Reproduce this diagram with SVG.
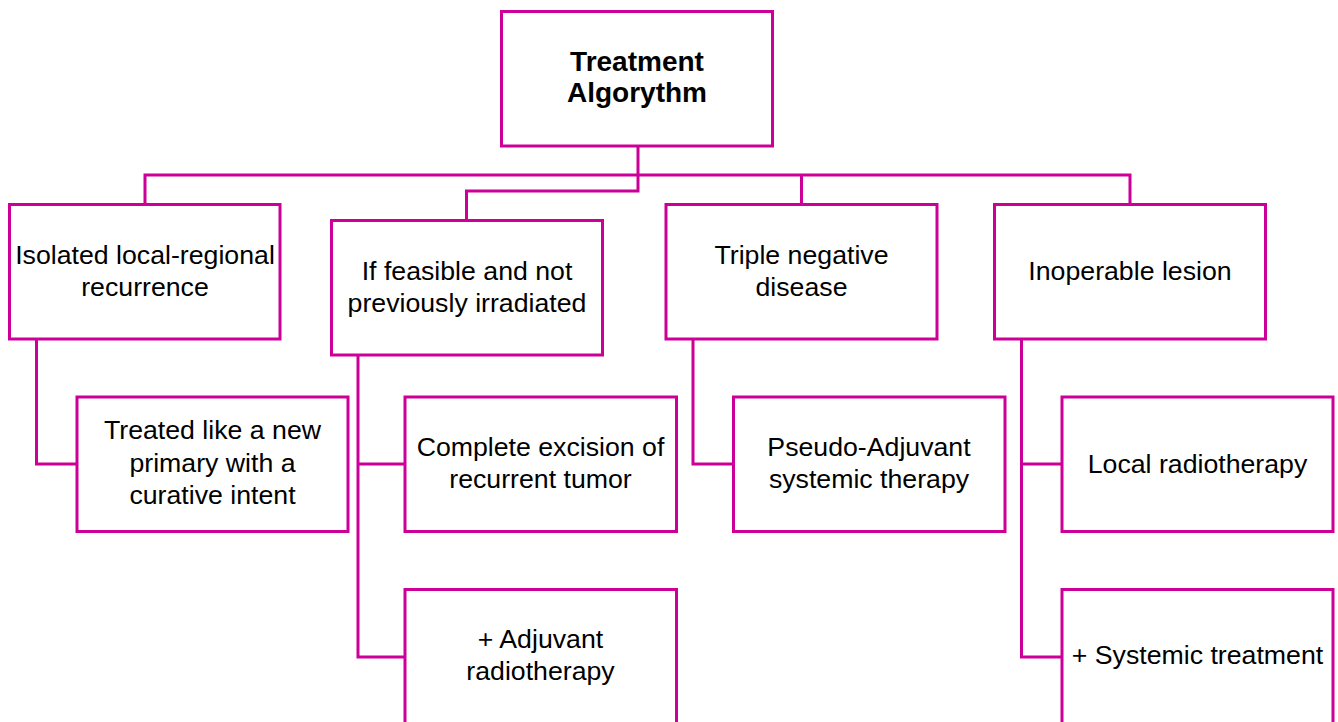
<svg xmlns="http://www.w3.org/2000/svg" width="1338" height="722" viewBox="0 0 1338 722">
  <style>
    .box { fill: #ffffff; stroke: #cc0099; stroke-width: 3; }
    .link { fill: none; stroke: #cc0099; stroke-width: 3; stroke-linejoin: miter; }
    .label { font-family: "Liberation Sans", Arial, sans-serif; font-size: 26.7px; fill: #000000; text-anchor: middle; }
    .title { font-family: "Liberation Sans", Arial, sans-serif; font-size: 28px; font-weight: bold; fill: #000000; text-anchor: middle; }
  </style>
  <rect width="1338" height="722" fill="#ffffff"/>

  <!-- connectors -->
  <g id="connectors">
    <path class="link" d="M638 146 V191 H466.5 V220"/>
    <path class="link" d="M145 204 V175 H1130 V204"/>
    <path class="link" d="M801.5 175 V204"/>
    <path class="link" d="M36.5 339 V464 H77"/>
    <path class="link" d="M358 355 V657 H405"/>
    <path class="link" d="M358 464 H405"/>
    <path class="link" d="M693 339 V464 H733.5"/>
    <path class="link" d="M1021.5 339 V657 H1062"/>
    <path class="link" d="M1021.5 464 H1062"/>
  </g>

  <!-- root -->
  <g id="root">
    <rect class="box" x="501.5" y="11.5" width="271" height="134.5"/>
    <text class="title" x="637" y="71">Treatment</text>
    <text class="title" x="637" y="102">Algorythm</text>
  </g>

  <!-- first level -->
  <g id="isolated">
    <rect class="box" x="9.5" y="204.5" width="270.5" height="134.5"/>
    <text class="label" x="145" y="264">Isolated local-regional</text>
    <text class="label" x="145" y="296">recurrence</text>
  </g>
  <g id="feasible">
    <rect class="box" x="331.5" y="220.5" width="271" height="134.5"/>
    <text class="label" x="467" y="279.5">If feasible and not</text>
    <text class="label" x="467" y="312">previously irradiated</text>
  </g>
  <g id="triple-negative">
    <rect class="box" x="666" y="204.5" width="271" height="134.5"/>
    <text class="label" x="801.5" y="264">Triple negative</text>
    <text class="label" x="801.5" y="296">disease</text>
  </g>
  <g id="inoperable">
    <rect class="box" x="994.5" y="204.5" width="271" height="134.5"/>
    <text class="label" x="1130" y="280">Inoperable lesion</text>
  </g>

  <!-- second level -->
  <g id="new-primary">
    <rect class="box" x="77" y="397" width="271" height="134.5"/>
    <text class="label" x="212.5" y="439">Treated like a new</text>
    <text class="label" x="212.5" y="471.5">primary with a</text>
    <text class="label" x="212.5" y="504">curative intent</text>
  </g>
  <g id="excision">
    <rect class="box" x="405" y="397" width="271.5" height="134.5"/>
    <text class="label" x="540.5" y="456">Complete excision of</text>
    <text class="label" x="540.5" y="487.5">recurrent tumor</text>
  </g>
  <g id="adjuvant-rt">
    <rect class="box" x="405" y="589.5" width="271.5" height="140"/>
    <text class="label" x="540.5" y="648">+ Adjuvant</text>
    <text class="label" x="540.5" y="680">radiotherapy</text>
  </g>
  <g id="pseudo-adjuvant">
    <rect class="box" x="733.5" y="397" width="271.5" height="134.5"/>
    <text class="label" x="869" y="456">Pseudo-Adjuvant</text>
    <text class="label" x="869" y="487.5">systemic therapy</text>
  </g>
  <g id="local-rt">
    <rect class="box" x="1062" y="397" width="271" height="134.5"/>
    <text class="label" x="1197.5" y="473">Local radiotherapy</text>
  </g>
  <g id="systemic">
    <rect class="box" x="1062" y="589.5" width="271" height="140"/>
    <text class="label" x="1197.5" y="664">+ Systemic treatment</text>
  </g>
</svg>
